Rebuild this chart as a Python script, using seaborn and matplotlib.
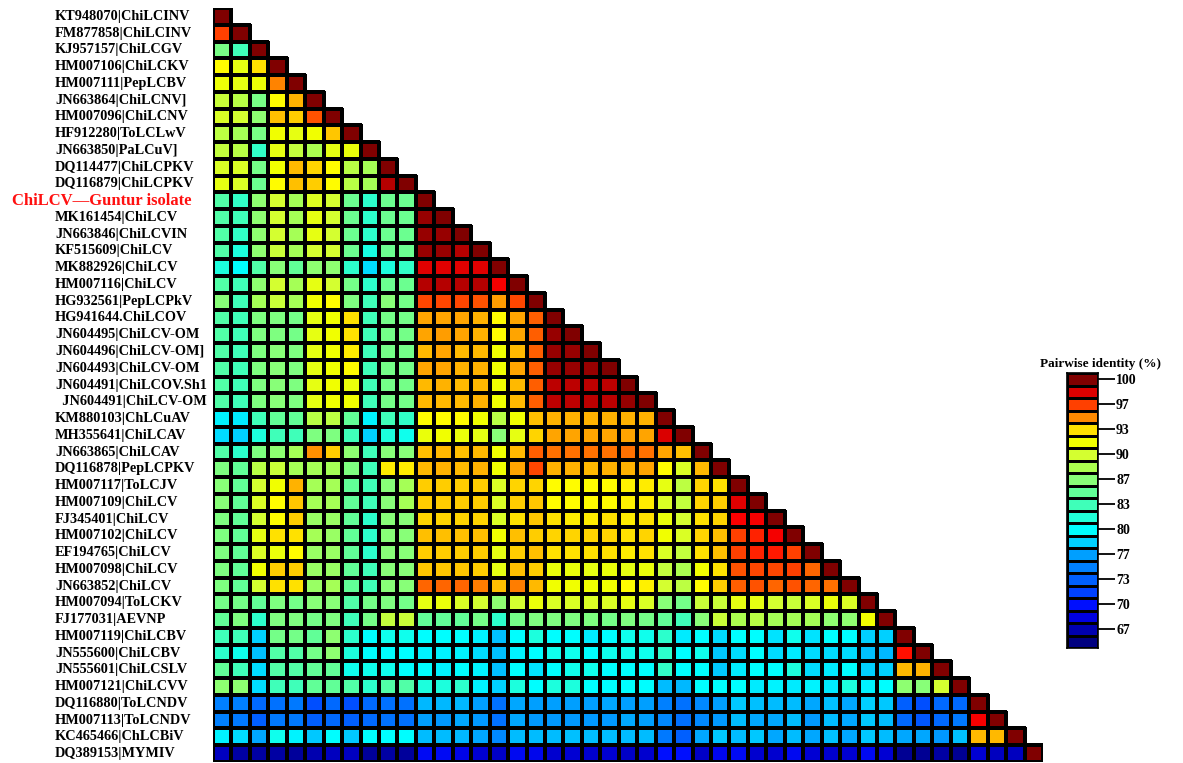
import numpy as np
import matplotlib
matplotlib.use("Agg")
import matplotlib.pyplot as plt
import matplotlib.transforms as mtransforms
from matplotlib.colors import LinearSegmentedColormap
import seaborn as sns

# isolates, top to bottom
labels = [
    "KT948070|ChiLCINV", "FM877858|ChiLCINV", "KJ957157|ChiLCGV", "HM007106|ChiLCKV",
    "HM007111|PepLCBV", "JN663864|ChiLCNV]", "HM007096|ChiLCNV", "HF912280|ToLCLwV",
    "JN663850|PaLCuV]", "DQ114477|ChiLCPKV", "DQ116879|ChiLCPKV", "ChiLCV\u2014Guntur isolate",
    "MK161454|ChiLCV", "JN663846|ChiLCVIN", "KF515609|ChiLCV", "MK882926|ChiLCV",
    "HM007116|ChiLCV", "HG932561|PepLCPkV", "HG941644.ChiLCOV", "JN604495|ChiLCV-OM",
    "JN604496|ChiLCV-OM]", "JN604493|ChiLCV-OM", "JN604491|ChiLCOV.Sh1", "  JN604491|ChiLCV-OM",
    "KM880103|ChLCuAV", "MH355641|ChiLCAV", "JN663865|ChiLCAV", "DQ116878|PepLCPKV",
    "HM007117|ToLCJV", "HM007109|ChiLCV", "FJ345401|ChiLCV", "HM007102|ChiLCV",
    "EF194765|ChiLCV", "HM007098|ChiLCV", "JN663852|ChiLCV", "HM007094|ToLCKV",
    "FJ177031|AEVNP", "HM007119|ChiLCBV", "JN555600|ChiLCBV", "JN555601|ChiLCSLV",
    "HM007121|ChiLCVV", "DQ116880|ToLCNDV", "HM007113|ToLCNDV", "KC465466|ChLCBiV",
    "DQ389153|MYMIV",
]
highlight = "ChiLCV\u2014Guntur isolate"

# pairwise identity (%), lower triangle, row i holds columns 0..i-1 (diagonal = 100)
identity_rows = [
    [],
    [96.7],
    [86, 83.3],
    [92.5, 91, 93.3],
    [91.5, 91, 91.5, 95.2],
    [89.5, 88.8, 86, 92.5, 94.2],
    [90.3, 90, 87, 93.9, 93.6, 96.2],
    [89, 88, 86, 91.7, 91, 91.7, 93.8],
    [89.3, 88.8, 82.5, 91, 89.3, 88.3, 91, 91.3],
    [90.3, 90.3, 85.8, 91.7, 94, 93.5, 92.5, 88.8, 88],
    [91, 90.3, 85.5, 92.5, 93.9, 93.6, 92.5, 88.8, 88, 99],
    [84.2, 82.5, 87, 90, 88, 90.5, 90, 85.5, 82.3, 85.5, 85.5],
    [84.2, 83.3, 87, 90, 88, 91, 90, 85.5, 82.3, 85.5, 85.5, 99.5],
    [84.2, 82.5, 87, 90, 88, 91, 90, 85.5, 82.3, 85.5, 85.5, 99.5, 99.5],
    [84.2, 81.5, 87, 89.5, 88, 90, 90, 85.5, 81.2, 85.5, 85.5, 99.5, 99.5, 99],
    [81.5, 80, 84.2, 86.7, 85, 87, 87, 82.3, 78.8, 81.5, 82.5, 98.2, 98.2, 98.2, 98.2],
    [84.2, 83.3, 87, 90, 88, 91, 90, 85.8, 82.3, 85.5, 85.5, 99, 99, 99, 99, 97.7],
    [86.7, 83.3, 88, 89.5, 88, 91.7, 92.5, 86.3, 83.3, 86.7, 85.8, 96.5, 96.5, 96.5, 96.2, 94.6, 96.5],
    [84.2, 83.3, 86.3, 86.3, 85.8, 91, 91.7, 93.3, 83.3, 85.8, 85.8, 94.4, 94.4, 94.4, 94.2, 92.5, 94.4, 96],
    [84.2, 83.3, 86.3, 86.3, 85.8, 91, 91.7, 93.3, 83.3, 85.8, 85.8, 94.4, 94.6, 94.4, 94.2, 92.5, 94.4, 96,
     99.5],
    [84.2, 83.3, 86.3, 86.7, 86.3, 91, 91.7, 93, 83.3, 85.8, 85.8, 94, 94.4, 94, 94, 91.7, 94, 96,
     99.5, 99.5],
    [84.2, 83.3, 86.3, 86.7, 86.3, 91, 91.7, 92.5, 83.3, 85.8, 85.8, 94.4, 94.4, 94.2, 94.2, 91.7, 94.4, 96,
     99.5, 99.5, 99.5],
    [84.2, 83.3, 86.3, 86.7, 86.3, 91, 91.7, 91.3, 83.3, 85.8, 85.8, 94, 94.2, 94, 94, 91.7, 94, 96,
     98.8, 98.8, 98.8, 98.8],
    [84.2, 83.3, 86.3, 86.7, 86.3, 91, 91.7, 91.7, 83.3, 85.8, 85.8, 94, 94, 94, 94.2, 91.7, 94, 96,
     98.8, 98.8, 98.8, 98.8, 99.5],
    [79.5, 79.3, 83.3, 85, 85, 88.8, 89, 85, 79.5, 83.3, 82.5, 92.5, 92.5, 92.5, 91.7, 88.8, 91.7, 93.9,
     94.2, 94.2, 94.2, 94.2, 94.2, 94.2],
    [78.8, 78.3, 81.5, 83.3, 83.3, 86.3, 86.3, 83.3, 78.3, 81.5, 80.8, 91.3, 91.7, 91.3, 91, 86.7, 91, 93.5,
     94.4, 94.4, 94.4, 94.4, 94.4, 94.4, 98.3],
    [84.2, 82.3, 86.3, 87, 88, 94.9, 93.6, 87, 83.3, 86.7, 86.7, 93.9, 94, 93.9, 94, 91.7, 94, 96,
     95.6, 95.6, 95.6, 95.6, 95.6, 95.6, 94.4, 93.9],
    [86.3, 85, 88.8, 89.5, 88, 88, 88, 86.3, 83.3, 93, 93, 94, 94.2, 94, 94.2, 91.7, 94.4, 96.5,
     94.2, 94.2, 94, 94.2, 94.2, 94.4, 92.5, 90.3, 94],
    [86.7, 85, 90, 91.7, 94.2, 88, 88, 85, 83.3, 86.7, 88, 93.6, 93.6, 93.6, 93.6, 90.3, 93.5, 93.5,
     92.5, 92.5, 92.5, 92.5, 92.8, 93, 91, 89, 93.5, 93.3],
    [86.7, 85, 90.3, 92.5, 93.8, 88, 88, 85, 83.3, 86.7, 88, 93.6, 93.6, 93.6, 93.6, 90.3, 93.6, 93.8,
     92.5, 92.5, 92.5, 92.5, 92.8, 93, 90.3, 89.3, 93.5, 93.6, 98.2],
    [86.3, 85, 90, 92.5, 93.6, 87.5, 87.5, 85, 82.3, 86.7, 86.7, 93.5, 93.5, 93.5, 93.5, 90.3, 93.3, 93.8,
     93.3, 93, 93, 93.3, 93, 93.3, 91.3, 90, 93.3, 93.5, 97.6, 97.7],
    [86.3, 85, 91, 93.3, 93.3, 88, 87.5, 85, 82.3, 86.7, 86.7, 93.9, 93.9, 93.9, 93.9, 91.7, 93.9, 93.6,
     93.5, 93.5, 93.5, 93.5, 93.3, 93.5, 91.7, 90.3, 93.5, 93.9, 96.7, 97, 97.7],
    [86.3, 85, 90.3, 91.3, 92.5, 87.5, 87.5, 85, 82.3, 86.7, 86.7, 93.6, 93.6, 93.6, 93.6, 91, 93.6, 93.9,
     93.3, 93.3, 93.3, 93.3, 93, 93.3, 90.3, 89.3, 93.3, 93.9, 96.7, 97, 97.2, 96.7],
    [86.3, 85, 91.7, 93.6, 93.6, 87.5, 87.5, 85, 83.3, 86.7, 86.7, 93.8, 93.8, 93.8, 93.6, 91, 93.9, 93.6,
     91.3, 91.3, 91, 91.3, 91, 91.3, 89.3, 88.3, 91.7, 93.3, 96.2, 96.5, 96.5, 96.7, 95.8],
    [86.3, 85, 90, 93.3, 93.3, 87.5, 88, 85, 83.3, 86.7, 86.7, 95.8, 95.8, 95.8, 95.3, 93.9, 95.3, 94,
     91.7, 91.7, 91.7, 91.7, 92.5, 92.8, 90, 89, 92.5, 93.6, 96, 96.2, 95.8, 96.2, 95.8, 95.6],
    [85.8, 85.8, 85, 86.3, 85.8, 86.7, 86.7, 84.2, 85.8, 86.3, 85.8, 91, 91.3, 90.3, 90, 87, 90, 91.3,
     90.3, 90.3, 90.3, 90.3, 91, 90.3, 86.7, 85.8, 89.5, 89.5, 91, 91, 90, 89.5, 90.3, 91.3, 90.3],
    [85, 86.3, 82.3, 86.3, 86.3, 85.8, 86.3, 83.3, 85.8, 89.3, 89.5, 85, 85, 85, 85.8, 82.3, 85.8, 86.3,
     86.3, 86.3, 86.3, 85.8, 86.3, 85.8, 85, 83.3, 86.7, 89.5, 88.3, 88.8, 88, 88, 88, 87, 87, 91.7],
    [83.3, 83.3, 78.3, 85.8, 85.8, 85, 87, 82.3, 80, 80.8, 80.8, 80, 80, 80, 79.5, 77.8, 80, 81.5,
     80, 80, 79.3, 80, 80.8, 80.8, 82.3, 79.3, 80, 78.8, 80, 80, 79, 80.8, 79, 80, 80, 78.3, 78.3],
    [82.3, 80.8, 77.8, 84.2, 84.2, 85.8, 87, 81.5, 80, 80, 80, 79.5, 79.5, 79.5, 78.8, 77.8, 79.5, 80,
     80.8, 80.8, 80, 80.8, 80.8, 80.8, 82.3, 80, 80.8, 78, 78.8, 80, 78.8, 79.3, 78.8, 78.8, 78.8, 77.8,
     77.5, 97.4],
    [85, 83.3, 78.8, 84.2, 84.2, 85, 85, 80.8, 80.8, 80.8, 80, 80, 79.5, 80, 79.5, 77.8, 80, 79,
     80, 80.8, 80.8, 80, 80, 80, 82.5, 80, 80, 78, 79.3, 80, 80, 81.5, 78.8, 79.3, 80, 78.3,
     78.3, 94, 94.2],
    [87, 87, 78.8, 83.3, 83.3, 85, 85, 84.2, 82.3, 84.2, 84.2, 81.5, 81.5, 82.3, 79.5, 78.3, 81.5, 80,
     81.5, 81.5, 80, 80, 80, 80, 77.6, 77.5, 80, 80, 80, 79.3, 79.5, 79.3, 79.5, 79.3, 81.5, 79.5,
     80, 87, 86.7, 90],
    [75, 75, 73.8, 74.2, 74.6, 72.5, 73.8, 72.5, 73.8, 74.2, 74.2, 77.5, 77.5, 77.5, 76.7, 74.2, 77, 76.7,
     76.7, 76.7, 76.7, 77, 76.7, 76.7, 75, 74.2, 75.4, 76.7, 78, 77.8, 77.6, 77.6, 77, 77.8, 77, 78.3,
     78, 73.3, 72.5, 73.8, 73.8],
    [75, 74.6, 73.3, 74.6, 74.6, 73.3, 73.8, 73.3, 73.8, 74.2, 74.2, 76.7, 76.3, 77, 76.3, 74.2, 77, 76.3,
     76.3, 76.3, 76.3, 76.3, 77, 76.7, 75.4, 74.2, 75.4, 76.3, 77.6, 77, 77, 77.6, 76.3, 77.6, 77, 78,
     77.6, 73.8, 72.8, 73.8, 74.6, 97.8],
    [79.5, 78.8, 77, 80.8, 79.5, 78, 80, 78, 80, 80, 80, 77.6, 77.6, 77.5, 77, 75.4, 77.6, 77.6,
     77.6, 77.8, 77.6, 77.6, 77.6, 77.6, 74.6, 73.3, 77, 78, 77.6, 78, 77, 77.6, 77, 77.8, 77, 78,
     77.6, 77, 77, 76.3, 77.8, 94, 94],
    [67.2, 66.3, 66.3, 66.3, 66, 66.7, 67.2, 67.2, 66, 66.3, 66, 69.5, 69.5, 68.8, 68, 67.5, 69.3, 69,
     67.8, 68, 67.8, 68, 67.5, 67.8, 70, 70, 67.5, 69, 69.5, 67.8, 67.8, 69.3, 68, 67.8, 68, 69.3,
     68, 65.7, 65.7, 66.3, 65.7, 68, 67.2, 67.2],
]

# colour key
key_levels = [100, 98.3, 96.7, 95, 93.3, 91.7, 90, 88.3, 86.7, 85, 83.3,
              81.7, 80, 78.3, 76.7, 75, 73.3, 71.7, 70, 68.3, 66.7, 65]
key_ticklabels = ["100", "97", "93", "90", "87", "83", "80", "77", "73", "70", "67"]

# jet-like scale as drawn in the figure
anchors = [
    (65, "#000080"), (66.7, "#0000b0"), (68.3, "#0000e0"), (70, "#0010ff"),
    (71.7, "#0040ff"), (73.3, "#0060ff"), (75, "#0080ff"), (76.7, "#00a0ff"),
    (78.3, "#00d0ff"), (80, "#00ffff"), (81.7, "#20ffd8"), (83.3, "#40ffb8"),
    (85, "#60ff98"), (86.7, "#88ff78"), (88.3, "#aaff50"), (90, "#d4ff30"),
    (91.7, "#f0ff00"), (92.5, "#ffff00"), (93.3, "#ffe000"), (95, "#ff8c00"),
    (96.7, "#ff4000"), (97.6, "#ff0000"), (98.3, "#dd0000"), (100, "#800000"),
]
vmin, vmax = 65, 100
cmap = LinearSegmentedColormap.from_list(
    "pid", [((v - vmin) / (vmax - vmin), c) for v, c in anchors])

n = len(labels)
mat = np.full((n, n), np.nan)
for i, row in enumerate(identity_rows):
    mat[i, :len(row)] = row
    mat[i, i] = 100
mask = np.triu(np.ones((n, n), dtype=bool), k=1)

plt.rcParams['font.family'] = ['Liberation Serif', 'DejaVu Serif']

fig = plt.figure(figsize=(11.83, 7.63), dpi=100)
W, H = 1183, 763
ax = fig.add_axes([213 / W, 1 - 762 / H, 830 / W, 754 / H])
sns.heatmap(mat, mask=mask, cmap=cmap, vmin=vmin, vmax=vmax, cbar=False,
            linewidths=1.5, linecolor="black", xticklabels=False,
            yticklabels=labels, ax=ax)

# no borders on the empty upper triangle
mesh = ax.collections[0]
edge = np.zeros((n * n, 4))
edge[~mask.ravel()] = (0, 0, 0, 1)
mesh.set_edgecolor(edge)

ax.tick_params(axis="y", length=0, pad=(213 - 55) * 0.72)
for lab in ax.get_yticklabels():
    lab.set_horizontalalignment("left")
    lab.set_fontsize(10.3)
    lab.set_fontweight("bold")
    lab.set_rotation(0)
    if lab.get_text() == highlight:
        lab.set_color("#ff1010")
        lab.set_fontsize(12)
        lab.set_transform(lab.get_transform() +
                          mtransforms.ScaledTranslation(-0.43, 0, fig.dpi_scale_trans))

# discrete colour key on the right
cax = fig.add_axes([1067 / W, 1 - 648 / H, 31 / W, 275 / H])
sns.heatmap(np.array(key_levels).reshape(-1, 1), cmap=cmap, vmin=vmin, vmax=vmax,
            cbar=False, linewidths=2, linecolor="black", xticklabels=False,
            yticklabels=False, ax=cax)
cax.set_yticks(np.arange(0, len(key_levels) - 1, 2) + 0.5)
cax.set_yticklabels(key_ticklabels, fontsize=10, fontweight="bold")
cax.yaxis.tick_right()
cax.tick_params(axis="y", length=12, width=1.3, pad=1, right=True, left=False)
for s in cax.spines.values():
    s.set_visible(True)
    s.set_color("black")
    s.set_linewidth(1.2)
fig.text(1040 / W, 1 - 364 / H, "Pairwise identity (%)", fontsize=9.5,
         fontweight="bold", ha="left", va="center")

fig.savefig("out.png", dpi=100)
